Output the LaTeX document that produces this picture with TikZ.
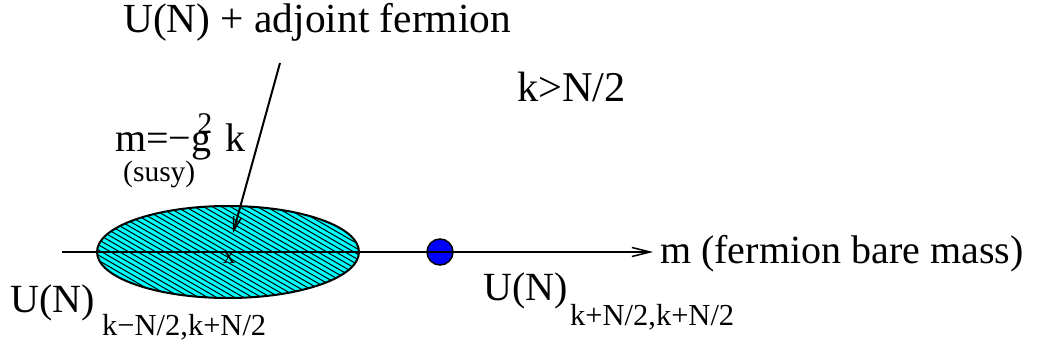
\documentclass[tikz,border=0pt]{standalone}
\usepackage{fontspec}
\setmainfont{Liberation Serif}
\usetikzlibrary{arrows.meta,positioning,calc}
\definecolor{phasecyan}{HTML}{00FFFF}
\definecolor{dotblue}{HTML}{0000FF}

\begin{document}
\begin{tikzpicture}[x=1pt,y=-1pt,
  bigtext/.style={inner sep=0pt, anchor=base west, font=\fontsize{40}{48}\selectfont},
  subtext/.style={inner sep=0pt, anchor=base west, font=\fontsize{30.5}{36}\selectfont},
  axisline/.style={line width=2pt, -{Straight Barb[length=18pt,width=9pt,line width=1.5pt]}},
  pointer/.style={line width=2pt, -{Straight Barb[length=14pt,width=8pt,line width=1.5pt]}},
]
  \useasboundingbox (0,0) rectangle (1040,347);

  % shaded phase region
  \coordinate (ctr) at (228,252);
  \fill[phasecyan] (ctr) ellipse [x radius=131pt, y radius=46pt];
  \begin{scope}
    \clip (ctr) ellipse [x radius=131pt, y radius=46pt];
    \foreach \i in {-32,...,32}
      \draw[line width=1pt] ($(ctr)+(9*\i,0)+(-100,-57.7)$) -- ++(200,115.5);
  \end{scope}
  \draw[line width=2pt] (ctr) ellipse [x radius=131pt, y radius=46pt];

  % mass axis
  \coordinate (axstart) at (62,252);
  \coordinate (axend) at (653,252);
  \draw[axisline] (axstart) -- (axend);
  \node[bigtext] (axlabel) at (660,263) {m (fermion bare mass)};

  % transition point
  \node[circle, draw, line width=1.5pt, fill=dotblue, minimum size=26pt, inner sep=0pt] (dot) at (440,252) {};
  \draw[line width=2pt] (dot.west) -- (dot.east);

  \node[inner sep=0pt, font=\fontsize{26}{30}\selectfont] (cross) at (229,258) {x};

  % labels
  \node[bigtext, font=\fontsize{41.4}{48}\selectfont] (title) at (123,33) {U(N) + adjoint fermion};
  \coordinate (ptrtop) at (280,63);
  \coordinate (ptrtip) at (233,233);
  \draw[pointer] (ptrtop) -- (ptrtip);

  \node[bigtext, font=\fontsize{42.4}{48}\selectfont] (kcond) at (517,102) {k>N/2};
  \node[bigtext] (susyline) at (115,152) {m=−g\kern-0.35em\raisebox{0.47em}{\fontsize{30}{36}\selectfont 2}\kern0.33em k};
  \node[subtext, font=\fontsize{29.5}{36}\selectfont] (susy) at (123,182) {(susy)};

  \node[bigtext] (leftgroup) at (10,312) {U(N)};
  \node[subtext] (leftlevel) at (102,335) {k−N/2,k+N/2};
  \node[bigtext] (rightgroup) at (483,300) {U(N)};
  \node[subtext] (rightlevel) at (570,325) {k+N/2,k+N/2};
\end{tikzpicture}
\end{document}
